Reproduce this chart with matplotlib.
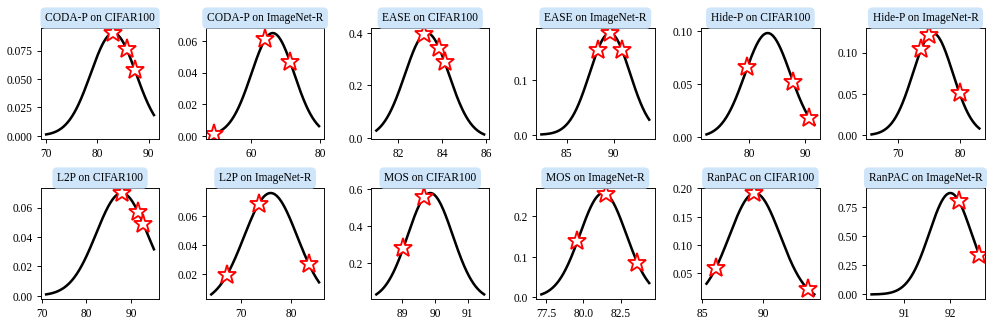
import numpy as np
import matplotlib.pyplot as plt

plt.rcParams['font.family'] = ['Liberation Serif', 'DejaVu Serif']
plt.rcParams['font.size'] = 10

# panel titles
titles = ['CODA-P on CIFAR100', 'CODA-P on ImageNet-R',
          'EASE on CIFAR100', 'EASE on ImageNet-R',
          'Hide-P on CIFAR100', 'Hide-P on ImageNet-R',
          'L2P on CIFAR100', 'L2P on ImageNet-R',
          'MOS on CIFAR100', 'MOS on ImageNet-R',
          'RanPAC on CIFAR100', 'RanPAC on ImageNet-R']

# fitted normal distribution (mean, std) per panel
means = [83.1, 66.3, 83.3, 89.6, 83.3, 75.6, 87.9, 75.9, 89.85, 81.33, 89.3, 92.0]
stds = [4.41, 6.15, 1.0, 2.15, 4.05, 3.23, 5.71, 5.28, 0.69, 1.55, 2.08, 0.457]

# x range of the drawn curve
x_lo = [70.0, 48.6, 81.0, 82.3, 72.4, 65.7, 71.0, 64.1, 88.2, 77.19, 85.35, 90.29]
x_hi = [91.0, 79.6, 85.9, 93.8, 91.6, 83.1, 95.1, 85.5, 91.5, 84.42, 94.15, 92.63]

# observed accuracies (stars)
points = [[83.0, 85.7, 87.3],
          [49.4, 64.2, 71.3],
          [83.15, 83.85, 84.1],
          [88.3, 89.6, 90.9],
          [79.7, 87.85, 90.7],
          [73.7, 75.05, 79.9],
          [87.9, 91.5, 92.7],
          [67.2, 73.5, 83.5],
          [89.02, 89.67],
          [79.6, 81.55, 83.63],
          [86.1, 89.25, 93.6],
          [92.18, 92.63]]


def normal_pdf(x, mu, sigma):
    return np.exp(-0.5 * ((x - mu) / sigma) ** 2) / (sigma * np.sqrt(2 * np.pi))


fig, axes = plt.subplots(2, 6, figsize=(12, 4), dpi=83.1)

for i, ax in enumerate(axes.flat):
    xs = np.linspace(x_lo[i], x_hi[i], 200)
    ax.plot(xs, normal_pdf(xs, means[i], stds[i]), color='black', lw=2.2)
    px = np.array(points[i])
    ax.plot(px, normal_pdf(px, means[i], stds[i]), linestyle='none', marker='*',
            markersize=17, markerfacecolor='white', markeredgecolor='red',
            markeredgewidth=1.6)
    ax.set_title(titles[i], fontsize=10,
                 bbox=dict(boxstyle='round,pad=0.4', facecolor='#cfe5fa',
                           edgecolor='none'))

plt.tight_layout()
plt.savefig('out.png', dpi=83.1)
